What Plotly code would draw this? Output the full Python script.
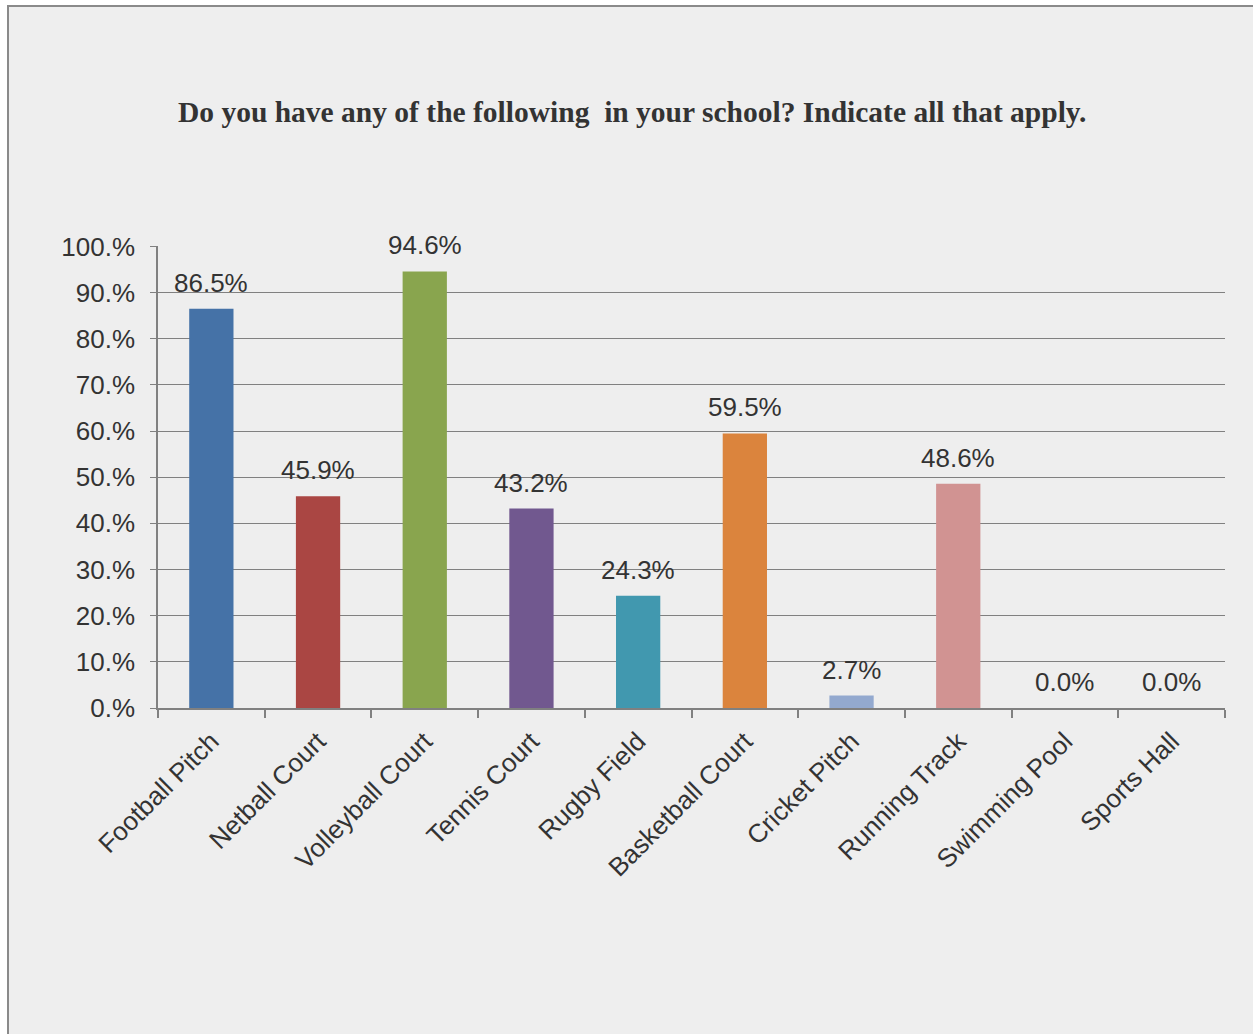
import plotly.graph_objects as go

categories = ["Football Pitch", "Netball Court", "Volleyball Court", "Tennis Court",
              "Rugby Field", "Basketball Court", "Cricket Pitch", "Running Track",
              "Swimming Pool", "Sports Hall"]
values = [86.5, 45.9, 94.6, 43.2, 24.3, 59.5, 2.7, 48.6, 0.0, 0.0]
colors = ["#4572a7", "#aa4643", "#89a54e", "#71588f", "#4198af",
          "#db843d", "#93a9cf", "#d19392", "#bf6b68", "#9db4d8"]
tick_vals = [0, 10, 20, 30, 40, 50, 60, 70, 80, 90, 100]
tick_text = ["0.%", "10.%", "20.%", "30.%", "40.%", "50.%", "60.%", "70.%", "80.%", "90.%", "100.%"]
title_text = "Do you have any of the following\u00a0\u00a0in your school? Indicate all that apply."

W, H = 1253, 1034
ml, mr, mt, mb = 158, 28, 246, 326
pw, ph = W - ml - mr, H - mt - mb

def px_x(p):
    return (p - ml) / pw

def px_y(p):
    return (H - mb - p) / ph

FONT = "Liberation Sans, Arial, sans-serif"

fig = go.Figure()
fig.add_trace(go.Bar(
    x=categories, y=values,
    marker=dict(color=colors, line=dict(width=0)),
    width=0.415,
    hoverinfo="x+y",
))

annotations = [dict(text="<b>" + title_text + "</b>", xref="paper", yref="paper",
                    x=px_x(632), y=px_y(112), xanchor="center", yanchor="middle",
                    showarrow=False,
                    font=dict(family="Liberation Serif, Times New Roman, serif", size=29.5, color="#333333"))]
for c, v in zip(categories, values):
    annotations.append(dict(x=c, y=v, xref="x", yref="y", text=f"{v:.1f}%",
                            showarrow=False, xanchor="center", yanchor="bottom", yshift=9,
                            font=dict(family=FONT, size=26, color="#333333")))

fig.update_layout(
    width=W, height=H,
    margin=dict(l=ml, r=mr, t=mt, b=mb),
    paper_bgcolor="#ffffff",
    plot_bgcolor="#eeeeee",
    showlegend=False,
    font=dict(family=FONT, size=26, color="#333333"),
    shapes=[dict(type="rect", xref="paper", yref="paper",
                 x0=px_x(8), x1=px_x(1300), y0=px_y(1100), y1=px_y(6),
                 fillcolor="#eeeeee", line=dict(color="#8a8a8a", width=2), layer="below")],
    annotations=annotations,
)

fig.update_xaxes(
    type="category",
    tickangle=-45,
    showline=True, linecolor="#808080", linewidth=1.5,
    ticks="outside", tickson="boundaries", ticklen=8, tickcolor="#808080", tickwidth=1.5,
    ticklabelstandoff=6,
    showgrid=False,
    tickfont=dict(size=26, color="#333333"),
)
fig.update_yaxes(
    range=[0, 100.1],
    tickvals=tick_vals, ticktext=tick_text,
    showgrid=True, gridcolor="#808080", gridwidth=1,
    showline=True, linecolor="#808080", linewidth=1.5,
    ticks="outside", ticklen=6, tickcolor="#808080",
    ticklabelstandoff=10,
    zeroline=False,
    tickfont=dict(size=26, color="#333333"),
)

fig.write_html("out.html", config={"displayModeBar": False},
               post_script="document.body.style.margin='0px';")
